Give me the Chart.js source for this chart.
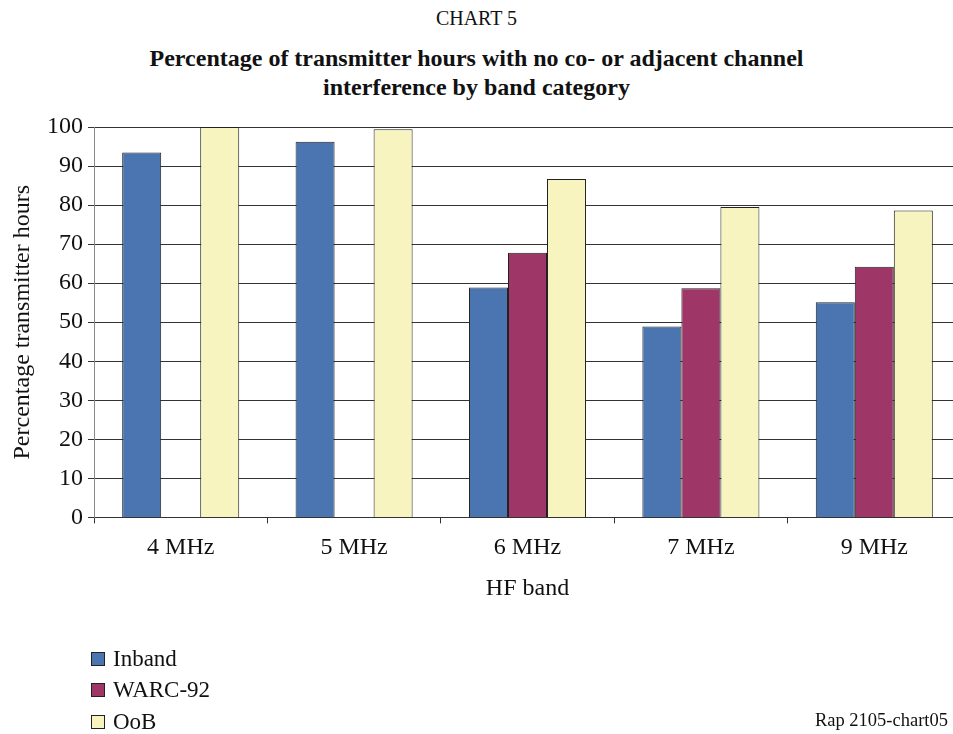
<!DOCTYPE html>
<html>
<head>
<meta charset="utf-8">
<script src="https://cdn.jsdelivr.net/npm/chart.js@4.4.1/dist/chart.umd.min.js"></script>
<style>
    html, body { margin: 0; padding: 0; background: #fff; overflow: hidden; }
    body { width: 953px; height: 734px; position: relative; font-family: 'Liberation Serif', 'Times New Roman', serif; color: #111; }
    #chartWrap { position: absolute; left: 0; top: 0; width: 961px; height: 734px; }
    .title-top { position: absolute; left: 0; width: 953px; text-align: center; }
    #chartNo { top: 7px; font-size: 20px; }
    #chartTitle { top: 44px; font-size: 24px; font-weight: bold; line-height: 29px; }
    #legend { position: absolute; left: 91px; top: 643px; }
    .legend-item { height: 31.5px; display: flex; align-items: center; font-size: 23px; }
    .legend-box { width: 12px; height: 12px; border: 1px solid #222; margin-right: 8px; }
    #footer { position: absolute; right: 5px; top: 710px; font-size: 18.5px; }
</style>
</head>
<body>
<div id="chartNo" class="title-top">CHART 5</div>
<div id="chartTitle" class="title-top">Percentage of transmitter hours with no co- or adjacent channel<br>interference by band category</div>
<div id="chartWrap"><canvas id="barChart" width="961" height="734"></canvas></div>
<div id="legend"></div>
<div id="footer">Rap 2105-chart05</div>

<script>
// Data
const bands = ['4 MHz', '5 MHz', '6 MHz', '7 MHz', '9 MHz'];
const inband = [93.5, 96.2, 58.9, 48.9, 55.1];
const warc92 = [null, null, 67.8, 58.7, 64.2];
const oob = [100, 99.4, 86.7, 79.5, 78.6];
const yTicks = [0, 10, 20, 30, 40, 50, 60, 70, 80, 90, 100];

const serif = "'Liberation Serif', 'Times New Roman', serif";

const datasets = [
    { label: 'Inband', data: inband, backgroundColor: '#4a75b0' },
    { label: 'WARC-92', data: warc92, backgroundColor: '#9e3767' },
    { label: 'OoB', data: oob, backgroundColor: '#f7f4c0' }
].map(d => Object.assign(d, {
    borderColor: '#222',
    borderWidth: 1,
    borderSkipped: 'bottom',
    categoryPercentage: 0.675,
    barPercentage: 1.0
}));

const ctx = document.getElementById('barChart').getContext('2d');
const chart = new Chart(ctx, {
    type: 'bar',
    data: { labels: bands, datasets: datasets },
    options: {
        responsive: false,
        animation: false,
        layout: { padding: { top: 127, left: 0, right: 0, bottom: 131 } },
        plugins: {
            legend: { display: false },
            tooltip: { enabled: false }
        },
        scales: {
            x: {
                grid: {
                    offset: true,
                    drawOnChartArea: false,
                    drawTicks: true,
                    tickLength: 6,
                    color: '#333'
                },
                border: { color: '#333', width: 1 },
                ticks: {
                    padding: 10,
                    color: '#111',
                    font: { family: serif, size: 24 }
                },
                title: {
                    display: true,
                    text: 'HF band',
                    color: '#111',
                    padding: { top: 2, bottom: 0 },
                    font: { family: serif, size: 24 }
                }
            },
            y: {
                min: 0,
                max: 100,
                afterBuildTicks: scale => {
                    scale.ticks = yTicks.map(v => ({ value: v }));
                },
                afterFit: scale => { scale.width = 94; },
                grid: {
                    color: '#333',
                    lineWidth: 1,
                    drawTicks: true,
                    tickLength: 6
                },
                border: { color: '#888', width: 1 },
                ticks: {
                    padding: 5,
                    color: '#111',
                    font: { family: serif, size: 24 }
                },
                title: {
                    display: true,
                    text: 'Percentage transmitter hours',
                    color: '#111',
                    padding: { top: 8, bottom: 0 },
                    font: { family: serif, size: 24 }
                }
            }
        }
    }
});

// Legend (vertical, built from datasets)
const legend = document.getElementById('legend');
datasets.forEach(d => {
    const item = document.createElement('div');
    item.className = 'legend-item';
    item.innerHTML = `<span class="legend-box" style="background:${d.backgroundColor}"></span>${d.label}`;
    legend.appendChild(item);
});
</script>
</body>
</html>
